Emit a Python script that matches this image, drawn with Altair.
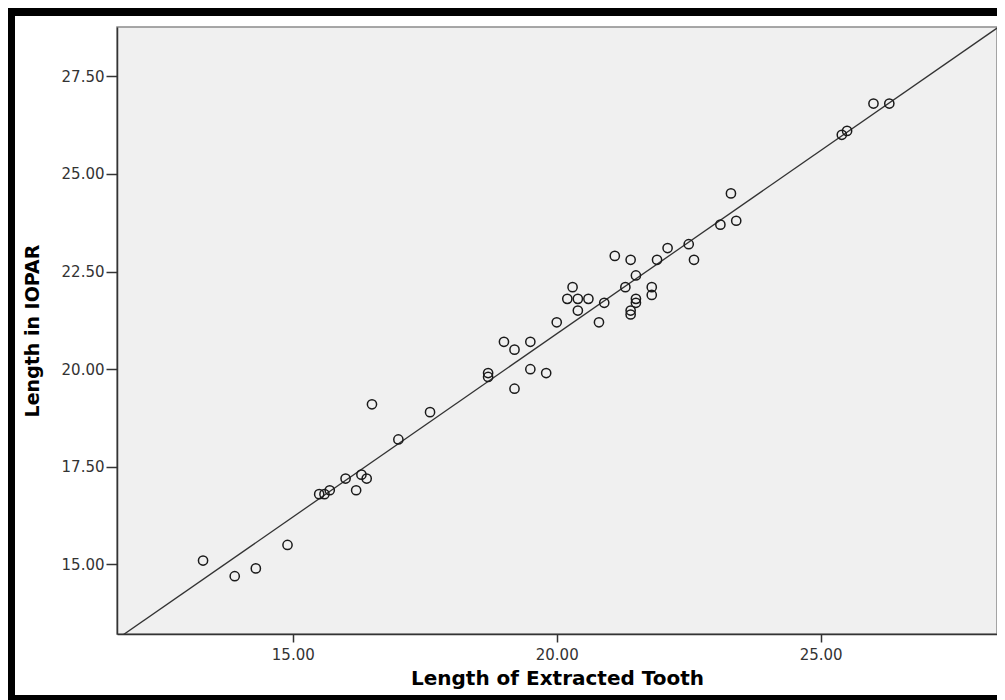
import altair as alt
import pandas as pd

# Length of Extracted Tooth (x) vs Length in IOPAR (y)
tooth = [13.3, 13.9, 14.3, 14.9, 15.5, 15.6, 15.7, 16.0, 16.2, 16.3, 16.4, 16.5,
         17.0, 17.6, 18.7, 18.7, 19.0, 19.2, 19.2, 19.5, 19.5, 19.8,
         20.0, 20.2, 20.3, 20.4, 20.4, 20.6, 20.8, 20.9,
         21.1, 21.3, 21.4, 21.4, 21.4, 21.5, 21.5, 21.5, 21.8, 21.8, 21.9,
         22.1, 22.5, 22.6, 23.1, 23.3, 23.4, 25.4, 25.5, 26.0, 26.3]
iopar = [15.1, 14.7, 14.9, 15.5, 16.8, 16.8, 16.9, 17.2, 16.9, 17.3, 17.2, 19.1,
         18.2, 18.9, 19.9, 19.8, 20.7, 19.5, 20.5, 20.7, 20.0, 19.9,
         21.2, 21.8, 22.1, 21.8, 21.5, 21.8, 21.2, 21.7,
         22.9, 22.1, 22.8, 21.5, 21.4, 22.4, 21.8, 21.7, 22.1, 21.9, 22.8,
         23.1, 23.2, 22.8, 23.7, 24.5, 23.8, 26.0, 26.1, 26.8, 26.8]

x_ticks = [15, 20, 25]
y_ticks = [15, 17.5, 20, 22.5, 25, 27.5]
x_domain = [11.67, 28.34]
y_domain = [13.22, 28.76]

df = pd.DataFrame({"tooth": tooth, "iopar": iopar})
dummy = pd.DataFrame({"a": [0]})

W, H = 880, 607

white = alt.Chart(dummy).mark_rect(fill="white").encode(
    x=alt.value(-102), x2=alt.value(W), y=alt.value(-11), y2=alt.value(668)
)

panel = alt.Chart(dummy).mark_rect(fill="#f0f0f0", stroke="#8a8a8a", strokeWidth=1.5).encode(
    x=alt.value(0), x2=alt.value(W), y=alt.value(0), y2=alt.value(H)
)

xs = alt.Scale(domain=x_domain, nice=False, zero=False)
ys = alt.Scale(domain=y_domain, nice=False, zero=False)

x_enc = alt.X("tooth:Q", scale=xs, title="Length of Extracted Tooth",
              axis=alt.Axis(values=x_ticks, format=".2f", tickSize=8, labelPadding=5,
                            titlePadding=6, titleFontSize=20, zindex=1))
y_enc = alt.Y("iopar:Q", scale=ys, title="Length in IOPAR",
              axis=alt.Axis(values=y_ticks, format=".2f", tickSize=11, labelPadding=2,
                            titlePadding=19, titleFontSize=19, zindex=1))

line = alt.Chart(df).transform_regression(
    "tooth", "iopar", extent=x_domain
).mark_line(color="#333333", strokeWidth=1.3, clip=True).encode(x=x_enc, y=y_enc)

points = alt.Chart(df).mark_point(
    shape="circle", filled=False, size=85, stroke="#1a1a1a", strokeWidth=1.5, opacity=1
).encode(x=x_enc, y=y_enc)

chart = alt.layer(white, panel, line, points).properties(
    width=W, height=H,
    padding={"left": 109, "top": 19, "right": 0, "bottom": 66},
    autosize=alt.AutoSizeParams(type="none"),
    background="black",
).configure_axis(
    grid=False,
    domainColor="#333333", domainWidth=1.5,
    tickColor="#333333", tickWidth=1.5,
    labelFont="DejaVu Sans", labelFontSize=15, labelColor="#333333",
    titleFont="DejaVu Sans", titleFontWeight="bold", titleColor="black",
).configure_view(strokeWidth=0)

chart.save("out.html", embed_options={"renderer": "svg", "actions": False})
